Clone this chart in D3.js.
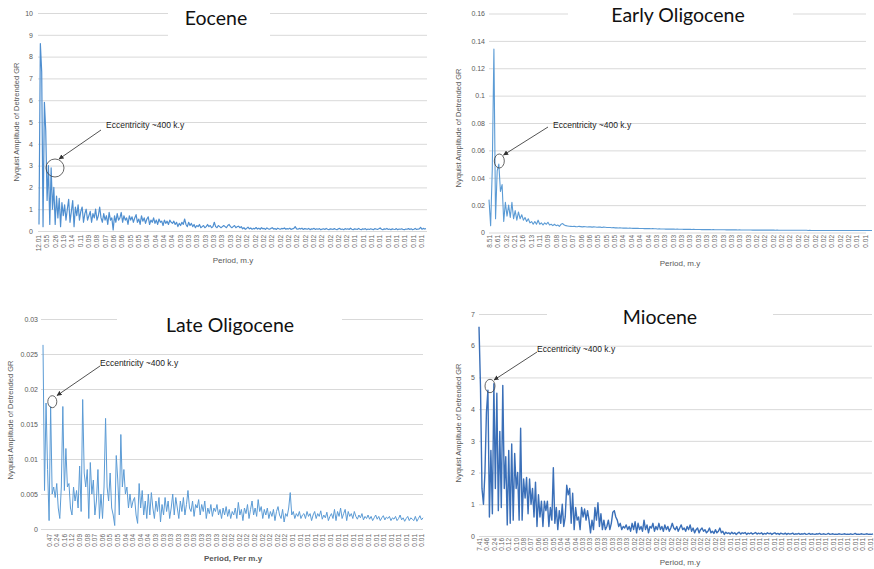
<!DOCTYPE html>
<html><head><meta charset="utf-8">
<script src="https://cdn.jsdelivr.net/npm/d3@7"></script>
<style>body{margin:0;background:#fff}svg{display:block}</style>
</head><body><svg id="c" width="874" height="569"></svg>
<script>
// ---------------- DATA ----------------
const eoceneValues = [
 0.3, 8.6, 7.3, 0.2, 5.9, 4.6, 1.4, 3.0, 0.3, 2.9, 1.0, 2.0, 0.3, 1.6,
 0.6, 1.5, 0.2, 1.3, 0.7, 1.2, 0.5, 1.0, 1.45, 0.4, 0.9, 1.4, 0.2, 1.1, 0.7, 1.2, 0.5, 0.9, 1.1, 0.4, 0.8, 1.0, 0.5, 0.7, 0.9, 0.4, 0.8, 0.6, 1.0, 0.5, 0.7, 1.1,
 0.6, 0.4, 0.8, 0.5, 0.7, 0.3, 0.85, 0.5, 0.6, 0.05, 0.7, 0.4, 0.8, 0.5, 0.6, 0.85, 0.4, 0.7, 0.5, 0.6, 0.3, 0.7, 0.5, 0.65, 0.4, 0.6, 0.75, 0.4, 0.55, 0.3, 0.7, 0.45, 0.6, 0.35, 0.55, 0.65, 0.3, 0.5, 0.4, 0.6, 0.35, 0.5, 0.3, 0.55, 0.4, 0.45, 0.25, 0.5, 0.35, 0.45, 0.3, 0.5, 0.4, 0.35, 0.45,
 0.3, 0.4, 0.2, 0.35, 0.25, 0.4, 0.3, 0.55, 0.3, 0.2, 0.4, 0.25, 0.35, 0.2, 0.3, 0.15, 0.25, 0.2, 0.3, 0.15, 0.2, 0.25, 0.15, 0.2, 0.3, 0.2, 0.25, 0.15, 0.2, 0.4, 0.2, 0.15, 0.25, 0.2, 0.15, 0.2, 0.25, 0.2, 0.15, 0.25, 0.3, 0.2, 0.15, 0.2, 0.25, 0.15, 0.2, 0.22, 0.15, 0.2,
 0.1, 0.15, 0.08, 0.12, 0.18, 0.1, 0.14, 0.08, 0.12, 0.1, 0.16, 0.09, 0.13, 0.08, 0.15, 0.1, 0.12, 0.07, 0.14, 0.1,
 0.08, 0.12, 0.15, 0.09, 0.11, 0.07, 0.13, 0.1, 0.08, 0.12, 0.1, 0.14, 0.08, 0.11, 0.09, 0.13, 0.07, 0.1, 0.12, 0.2,
 0.1, 0.08, 0.12, 0.09, 0.13, 0.07, 0.11, 0.1, 0.08, 0.12, 0.06, 0.1, 0.09, 0.12, 0.07, 0.1, 0.08, 0.11, 0.06, 0.09,
 0.1, 0.07, 0.12, 0.08, 0.06, 0.1, 0.09, 0.07, 0.11, 0.08, 0.06, 0.1, 0.12, 0.07, 0.09, 0.06, 0.11, 0.08, 0.1, 0.07,
 0.13, 0.08, 0.06, 0.1, 0.09, 0.07, 0.12, 0.08, 0.06, 0.1, 0.08, 0.11, 0.06, 0.09, 0.07, 0.1, 0.08, 0.06, 0.11, 0.09,
 0.07, 0.1, 0.14, 0.08, 0.06, 0.1, 0.08, 0.12, 0.07, 0.09, 0.06, 0.1, 0.08, 0.07, 0.11, 0.06, 0.09, 0.08, 0.1, 0.07,
 0.06, 0.09, 0.08, 0.11, 0.07, 0.1, 0.06, 0.08, 0.12, 0.07, 0.09, 0.1, 0.17, 0.08, 0.12, 0.09, 0.11
];
const earlyOligoceneValues = [
 0.024, 0.005, 0.046, 0.134, 0.01, 0.045, 0.05, 0.03, 0.035, 0.008,
 0.022, 0.012, 0.02, 0.011, 0.022, 0.01, 0.016, 0.009, 0.015, 0.01, 0.013, 0.009, 0.011, 0.008, 0.01, 0.007, 0.008, 0.006, 0.008, 0.006,
 0.009, 0.006, 0.007, 0.0055, 0.007, 0.006, 0.0075, 0.0055, 0.006, 0.005, 0.006, 0.005, 0.0055, 0.0045, 0.006, 0.0065, 0.0055, 0.005, 0.0048, 0.0046, 0.0045,
 0.0044, 0.0046, 0.0043, 0.0042, 0.0045, 0.0043, 0.0041, 0.0043, 0.0042, 0.004, 0.0042, 0.0041, 0.0039, 0.0041, 0.004, 0.0038, 0.004, 0.0039, 0.0037, 0.0039, 0.0038, 0.0037,
 0.0036, 0.0037, 0.0035, 0.0036, 0.0034, 0.0035, 0.0033, 0.0034, 0.0033, 0.0032, 0.0033, 0.0032, 0.0031, 0.0032, 0.0031, 0.003, 0.0031, 0.003, 0.003, 0.0029,
 0.0029, 0.0029, 0.0028, 0.0029, 0.0028, 0.0028, 0.0027, 0.0028, 0.0027, 0.0027, 0.0026, 0.0027, 0.0026, 0.0026, 0.0026, 0.0025, 0.0026, 0.0025, 0.0025, 0.0025,
 0.0025, 0.0024, 0.0025, 0.0024, 0.0024, 0.0024, 0.0023, 0.0024, 0.0023, 0.0023, 0.0023, 0.0022, 0.0023, 0.0022, 0.0022, 0.0022, 0.0022, 0.0021, 0.0022, 0.0021, 0.0021, 0.0021, 0.0021, 0.002, 0.0021, 0.002, 0.002, 0.002, 0.002, 0.002, 0.002,
 0.002, 0.0019, 0.002, 0.0019, 0.0019, 0.0019, 0.0019, 0.0019, 0.0018, 0.0019, 0.0018, 0.0018, 0.0018, 0.0018, 0.0018, 0.0018, 0.0018, 0.0017, 0.0018, 0.0017, 0.0017, 0.0017, 0.0017, 0.0017, 0.0017, 0.0017, 0.0017, 0.0017, 0.0017, 0.0017,
 0.0017, 0.0016, 0.0017, 0.0016, 0.0016, 0.0016, 0.0016, 0.0016, 0.0016, 0.0016, 0.0016, 0.0016, 0.0016, 0.0016, 0.0016, 0.0016, 0.0016, 0.0016, 0.0016, 0.0016,
 0.0016, 0.0015, 0.0016, 0.0015, 0.0015, 0.0015, 0.0015, 0.0015, 0.0015, 0.0015, 0.0015, 0.0015, 0.0015, 0.0015, 0.0015, 0.0015, 0.0015, 0.0015, 0.0015, 0.0015,
 0.0015, 0.0015, 0.0015, 0.0015, 0.0015, 0.0015, 0.0015, 0.0015, 0.0015, 0.0015, 0.0015, 0.0015, 0.0015, 0.0015, 0.0015, 0.0015, 0.0015, 0.0015, 0.0015, 0.0015, 0.0015
];
const lateOligoceneValues = [
 0.0263, 0.0055, 0.018, 0.0085, 0.0012, 0.0175, 0.005, 0.006, 0.0045, 0.0065, 0.003, 0.0015, 0.006, 0.0175, 0.0055, 0.0115, 0.006, 0.0065, 0.003, 0.002,
 0.006, 0.004, 0.0055, 0.003, 0.009, 0.0025, 0.0185, 0.008, 0.006, 0.0085, 0.0015, 0.0095, 0.005, 0.007, 0.002, 0.004, 0.0085, 0.0015, 0.005, 0.0015,
 0.006, 0.0158, 0.006, 0.004, 0.008, 0.003, 0.002, 0.0005, 0.0105, 0.007, 0.002, 0.0135, 0.006, 0.0085, 0.005, 0.006, 0.003, 0.005, 0.003, 0.004,
 0.0045, 0.002, 0.0008, 0.0065, 0.003, 0.0055, 0.002, 0.004, 0.0015, 0.005, 0.002, 0.0052,
 0.003, 0.0015, 0.004, 0.0025, 0.0045, 0.001, 0.0035, 0.002, 0.0045, 0.0025, 0.004, 0.0015, 0.003, 0.005, 0.002, 0.0045, 0.003, 0.0015, 0.004, 0.0025,
 0.0045, 0.002, 0.0035, 0.0055, 0.003, 0.0025, 0.004, 0.0018, 0.0035, 0.003, 0.0042, 0.002, 0.0035, 0.0025, 0.004, 0.0015, 0.003, 0.0022, 0.0035, 0.0018,
 0.003, 0.0025, 0.0035, 0.002, 0.0028, 0.0015, 0.003, 0.002, 0.0032, 0.0018, 0.0028, 0.0015, 0.0025, 0.002,
 0.003, 0.0015, 0.0038, 0.002, 0.0028, 0.0012, 0.003, 0.0022, 0.0035, 0.0015, 0.0028, 0.004, 0.002, 0.003, 0.0018, 0.0042, 0.0025, 0.0032, 0.0015, 0.0028,
 0.002, 0.003, 0.0015, 0.0025, 0.0018, 0.0028, 0.0012, 0.0025, 0.0032, 0.002, 0.0015, 0.0028, 0.001, 0.0022, 0.0018, 0.003, 0.0052, 0.002, 0.0025, 0.0015,
 0.0022, 0.0018, 0.0025, 0.0015, 0.002,
 0.0022, 0.0015, 0.0025, 0.0018, 0.0022, 0.0012, 0.002, 0.0025, 0.0015, 0.0022, 0.0018, 0.0026, 0.0014, 0.002, 0.0016, 0.0024, 0.0012, 0.0018, 0.0022, 0.0015,
 0.0028, 0.0012, 0.0025, 0.0018, 0.003, 0.0015, 0.0022, 0.0028, 0.0012, 0.0025, 0.0018, 0.0022, 0.0015, 0.0025, 0.0018, 0.0014, 0.002, 0.0016, 0.0022, 0.0013,
 0.0018, 0.0015, 0.002, 0.0014, 0.0018, 0.0012, 0.0016, 0.002, 0.0014, 0.0018, 0.0012, 0.0016, 0.0019, 0.0013, 0.0017, 0.0015, 0.0018, 0.0012, 0.0016, 0.0014,
 0.0018, 0.0012, 0.0015, 0.002, 0.0013, 0.0016, 0.0011, 0.0015, 0.0018, 0.0012, 0.0016, 0.0014, 0.0012, 0.0018, 0.0011, 0.0015, 0.0019, 0.0013, 0.0016
];
const mioceneValues = [
 6.6, 4.7, 1.5, 1.0, 2.0, 3.9, 4.6, 0.6, 2.7, 0.7, 4.8, 1.5, 4.5, 0.8, 3.3, 0.9, 4.75, 1.5, 2.5, 0.35,
 2.7, 0.4, 2.9, 0.5, 2.6, 1.5, 2.0, 0.5, 3.4, 0.5, 1.8, 1.2, 1.85, 0.7, 1.8, 1.0, 1.5, 0.6, 1.7, 0.3,
 1.3, 0.6, 1.1, 0.3, 1.1, 0.8, 1.1, 0.3, 0.9, 0.5, 2.15, 0.4, 0.9, 0.2, 0.8, 0.4, 1.0, 0.3, 0.6, 1.6,
 1.3, 1.5, 0.4, 1.35, 0.2, 0.9, 0.5, 0.6, 0.2, 0.9, 0.6, 0.85, 0.5, 0.8, 0.5, 0.1, 0.5, 0.2, 0.9, 0.5,
 1.05, 0.3, 0.7, 0.2, 0.5, 0.2, 0.3, 0.5, 0.2, 0.4, 0.75, 0.8, 0.6, 0.5, 0.3, 0.4, 0.2, 0.3, 0.25, 0.35,
 0.2, 0.3, 0.15, 0.4, 0.2, 0.45, 0.1, 0.4, 0.2, 0.3, 0.15, 0.5, 0.2, 0.35, 0.1, 0.3, 0.25, 0.4, 0.15, 0.3,
 0.2, 0.4, 0.2, 0.3, 0.15, 0.35, 0.2, 0.3, 0.15, 0.25, 0.4, 0.25, 0.2, 0.3, 0.15, 0.25, 0.35, 0.2, 0.25, 0.15,
 0.3, 0.2, 0.35, 0.15, 0.25, 0.1, 0.2, 0.25, 0.1, 0.2, 0.25, 0.15, 0.2, 0.1, 0.15, 0.25, 0.1, 0.15, 0.08, 0.2,
 0.1, 0.15, 0.25, 0.1, 0.15, 0.05, 0.12, 0.08,
 0.1, 0.06, 0.12, 0.07, 0.1, 0.05, 0.09, 0.12, 0.06, 0.1, 0.08, 0.11, 0.05, 0.09, 0.07, 0.1, 0.06, 0.08, 0.11, 0.06,
 0.09, 0.07, 0.1, 0.05, 0.08, 0.06, 0.1, 0.07, 0.09, 0.05, 0.08, 0.1, 0.06, 0.08, 0.05, 0.09, 0.07, 0.06, 0.09, 0.05,
 0.08, 0.06, 0.07, 0.09, 0.05, 0.07, 0.06, 0.08, 0.05, 0.07, 0.06, 0.08, 0.05, 0.06, 0.08, 0.05, 0.07, 0.06, 0.05, 0.07,
 0.06, 0.08, 0.05, 0.06, 0.07, 0.05, 0.06, 0.08, 0.05, 0.06, 0.07, 0.05, 0.06, 0.05, 0.07, 0.06, 0.05, 0.06, 0.07, 0.05,
 0.06, 0.05, 0.07, 0.05, 0.06, 0.08, 0.05, 0.06, 0.05, 0.07, 0.06, 0.05, 0.06, 0.07, 0.05, 0.06, 0.05, 0.07
];

const eoceneTicks = ["12.01","0.55","0.26","0.19","0.14","0.11","0.09","0.08","0.07","0.06","0.06","0.05","0.05",
  "0.04","0.04","0.04","0.04","0.03","0.03","0.03","0.03","0.03","0.03","0.03",
  "0.02","0.02","0.02","0.02","0.02","0.02","0.02","0.02","0.02","0.02","0.02","0.02","0.02","0.02",
  "0.01","0.01","0.01","0.01","0.01","0.01","0.01","0.01","0.01"];
const earlyOligoceneTicks = ["8.51","0.61","0.32","0.21","0.16","0.13","0.11","0.09","0.08","0.07","0.07","0.06","0.06",
  "0.05","0.05","0.05","0.04","0.04","0.04","0.04",
  "0.03","0.03","0.03","0.03","0.03","0.03","0.03","0.03","0.03","0.03","0.03","0.03",
  "0.02","0.02","0.02","0.02","0.02","0.02","0.02","0.02","0.02","0.02","0.02","0.02",
  "0.01","0.01"];
const lateOligoceneTicks = ["0.47","0.24","0.16","0.12","0.09","0.08","0.07","0.06","0.05","0.05","0.04","0.04","0.04","0.04",
  "0.03","0.03","0.03","0.03","0.03","0.03","0.03","0.03","0.03",
  "0.02","0.02","0.02","0.02","0.02","0.02","0.02","0.02","0.02",
  "0.01","0.01","0.01","0.01","0.01","0.01","0.01","0.01","0.01","0.01","0.01","0.01","0.01","0.01","0.01","0.01","0.01","0.01"];
const mioceneTicks = ["7.41","0.46","0.24","0.16","0.12","0.10","0.08","0.07","0.06","0.05","0.05","0.04","0.04","0.04",
  "0.03","0.03","0.03","0.03","0.03","0.03","0.03",
  "0.02","0.02","0.02","0.02","0.02","0.02","0.02","0.02","0.02","0.02","0.02","0.02","0.02",
  "0.01","0.01","0.01","0.01","0.01","0.01","0.01","0.01","0.01","0.01","0.01","0.01","0.01","0.01","0.01","0.01","0.01","0.01","0.01","0.01"];

const eoceneYTicks = [0,1,2,3,4,5,6,7,8,9,10];
const earlyOligoceneYTicks = [0,0.02,0.04,0.06,0.08,0.1,0.12,0.14,0.16];
const lateOligoceneYTicks = [0,0.005,0.01,0.015,0.02,0.025,0.03];
const mioceneYTicks = [0,1,2,3,4,5,6,7];

const titles = ["Eocene","Early Oligocene","Late Oligocene","Miocene"];
const xTitles = ["Period, m.y","Period, m.y","Period, Per m.y","Period, m.y"];
const yTitle = "Nyquist Amplitude of Detrended GR";
const annotation = "Eccentricity ~400 k.y";

// ---------------- LAYOUT ----------------
const panels = [
 {values:eoceneValues, ticks:eoceneTicks, yTicks:eoceneYTicks, color:"#4f8fd0", sw:1.2,
  x0:39, x1:426, yB:231, yT:13, gx0:38, gx1:427, pad:5, lx0:38.5, lx1:421.5, tickTop:235,
  ytx:16, yty:122, xtx:233, xty:263, bold:false, tx:216, ty:25, box:[168,3,102,40],
  ann:{tx:106, ty:127.5, ax0:101, ay0:130, ax1:59, ay1:159, ex:55, ey:168, rx:9, ry:9}},
 {values:earlyOligoceneValues, ticks:earlyOligoceneTicks, yTicks:earlyOligoceneYTicks, color:"#5b9bd5", sw:1.1,
  x0:489, x1:872, yB:232.5, yT:13.5, gx0:489, gx1:866, pad:4, lx0:489.3, lx1:865, tickTop:235,
  ytx:458, yty:128, xtx:680, xty:266, bold:false, tx:678, ty:22, box:[568,2,225,32],
  ann:{tx:553, ty:127.5, ax0:548, ay0:127, ax1:503.5, ay1:155, ex:499.3, ey:161, rx:5, ry:7}},
 {values:lateOligoceneValues, ticks:lateOligoceneTicks, yTicks:lateOligoceneYTicks, color:"#5b9bd5", sw:1,
  x0:43, x1:423, yB:529, yT:319, gx0:41, gx1:423, pad:3, lx0:49, lx1:421.7, tickTop:534,
  ytx:10, yty:420, xtx:233, xty:561, bold:true, tx:230, ty:332, box:[117,304,225,40],
  ann:{tx:100, ty:366, ax0:100, ay0:366, ax1:57, ay1:395.5, ex:52.3, ey:401.7, rx:4.5, ry:6}},
 {values:mioceneValues, ticks:mioceneTicks, yTicks:mioceneYTicks, color:"#3a6fb8", sw:1.4,
  x0:479, x1:873, yB:536, yT:314, gx0:479, gx1:872, pad:4, lx0:479.3, lx1:870, tickTop:538,
  ytx:458, yty:423, xtx:680, xty:565, bold:false, tx:660, ty:324, box:[547,298,226,40],
  ann:{tx:537, ty:351.5, ax0:537, ay0:352, ax1:494, ay1:380, ex:490, ey:386, rx:5, ry:6.7}}
];

// ---------------- DRAW ----------------
const svg = d3.select("#c");
svg.append("rect").attr("width",874).attr("height",569).attr("fill","#fff");
svg.append("defs").append("marker")
  .attr("id","arr").attr("viewBox","0 0 6 6").attr("refX",5.5).attr("refY",3)
  .attr("markerWidth",5).attr("markerHeight",5).attr("markerUnits","userSpaceOnUse")
  .attr("orient","auto")
  .append("path").attr("d","M0,0L6,3L0,6Z").attr("fill","#333");

const fmt = d => String(+d.toFixed(4));

panels.forEach((p, k) => {
  const g = svg.append("g");
  const x = d3.scaleLinear().domain([0, p.values.length - 1]).range([p.x0, p.x1]);
  const y = d3.scaleLinear().domain([0, d3.max(p.yTicks)]).range([p.yB, p.yT]);

  const ya = g.append("g").attr("transform", `translate(${p.gx0},0)`)
    .call(d3.axisLeft(y).tickValues(p.yTicks).tickFormat(fmt).tickSize(-(p.gx1 - p.gx0)).tickPadding(p.pad));
  ya.select(".domain").remove();
  ya.selectAll(".tick line").attr("stroke","#d9d9d9").attr("stroke-width",1);
  ya.selectAll(".tick text").attr("fill","#595959").style("font-family","Liberation Sans, Arial, sans-serif").style("font-size","7px");

  const lx = d3.scaleLinear().domain([0, p.ticks.length - 1]).range([p.lx0, p.lx1]);
  const xa = g.append("g").attr("transform", `translate(0,${p.tickTop})`)
    .call(d3.axisBottom(lx).tickValues(d3.range(p.ticks.length)).tickFormat(j => p.ticks[j]).tickSize(0));
  xa.select(".domain").remove();
  xa.selectAll(".tick text")
    .attr("x",0).attr("y",0).attr("dy","0.32em")
    .attr("transform","rotate(-90)").attr("text-anchor","end")
    .attr("fill","#666").style("font-family","Liberation Sans, Arial, sans-serif").style("font-size","6.5px");

  g.append("path").datum(p.values)
    .attr("fill","none").attr("stroke",p.color).attr("stroke-width",p.sw).attr("stroke-linejoin","round")
    .attr("d", d3.line().x((d,i) => x(i)).y(d => y(d)));

  g.append("rect").attr("x",p.box[0]).attr("y",p.box[1]).attr("width",p.box[2]).attr("height",p.box[3]).attr("fill","#fff");
  g.append("text").attr("x",p.tx).attr("y",p.ty).attr("text-anchor","middle")
    .style("font-family","Lato, 'Open Sans', sans-serif").style("font-size","19.5px").attr("fill","#111")
    .text(titles[k]);

  g.append("text").attr("transform",`translate(${p.ytx},${p.yty}) rotate(-90)`).attr("text-anchor","middle")
    .attr("dy","0.35em")
    .style("font-family","Liberation Sans, Arial, sans-serif").style("font-size","7.5px").attr("fill","#595959")
    .text(yTitle);
  g.append("text").attr("x",p.xtx).attr("y",p.xty).attr("text-anchor","middle")
    .style("font-family","Liberation Sans, Arial, sans-serif").style("font-size","8px")
    .style("font-weight",p.bold ? "bold" : "normal").attr("fill","#595959")
    .text(xTitles[k]);

  const a = p.ann;
  g.append("ellipse").attr("cx",a.ex).attr("cy",a.ey).attr("rx",a.rx).attr("ry",a.ry)
    .attr("fill","none").attr("stroke","#404040").attr("stroke-width",0.8);
  g.append("line").attr("x1",a.ax0).attr("y1",a.ay0).attr("x2",a.ax1).attr("y2",a.ay1)
    .attr("stroke","#404040").attr("stroke-width",0.9).attr("marker-end","url(#arr)");
  g.append("text").attr("x",a.tx).attr("y",a.ty)
    .style("font-family","Liberation Sans, Arial, sans-serif").style("font-size","8.5px").attr("fill","#222")
    .text(annotation);
});
</script>
</body></html>
